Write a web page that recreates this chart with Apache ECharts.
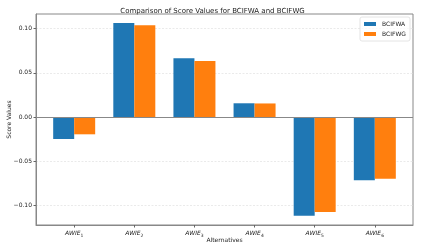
<!DOCTYPE html>
<html><head><meta charset="utf-8">
<script src="https://cdn.jsdelivr.net/npm/echarts@6/dist/echarts.min.js"></script>
<style>html,body{margin:0;padding:0;background:#fff}#c{width:425px;height:250px}</style>
</head><body><div id="c"></div>
<script>
const categories = ['1','2','3','4','5','6'];
const bcifwa = [-0.0249, 0.1063, 0.0664, 0.0155, -0.1116, -0.0716];
const bcifwg = [-0.0196, 0.1037, 0.0633, 0.0153, -0.1075, -0.0698];
const yTicks = [-0.10, -0.05, 0.00, 0.05, 0.10];
const xTicks = categories.map((c, i) => i);

const chart = echarts.init(document.getElementById('c'), null, {renderer: 'canvas'});
const font = 'DejaVu Sans';
chart.setOption({
  animation: false,
  title: {text: 'Comparison of Score Values for BCIFWA and BCIFWG', left: 'center', top: 3,
    textStyle: {fontFamily: font, fontSize: 7, fontWeight: 'normal', color: '#222'}},
  legend: {right: 15, top: 17, orient: 'vertical', itemWidth: 12, itemHeight: 4, itemGap: 4,
    padding: [4, 4, 4, 4], borderColor: '#ddd', borderWidth: 0.8, borderRadius: 2,
    backgroundColor: 'rgba(255,255,255,0.8)', icon: 'rect',
    textStyle: {fontFamily: font, fontSize: 6, color: '#222', padding: [0, 0, 0, 1]}},
  grid: {left: 36, right: 12, top: 14, bottom: 25, show: true, borderColor: '#888', borderWidth: 1,
    outerBoundsMode: 'none', containLabel: false},
  xAxis: {type: 'value', min: -0.635, max: 5.635,
    name: 'Alternatives', nameLocation: 'middle', nameGap: 12, nameMoveOverlap: false,
    nameTextStyle: {fontFamily: font, fontSize: 6, color: '#222'},
    axisLine: {show: true, onZero: false, lineStyle: {color: '#888'}},
    axisTick: {show: true, length: 2.5, customValues: xTicks, lineStyle: {color: '#666'}},
    splitLine: {show: false},
    axisLabel: {customValues: xTicks, margin: 4, fontFamily: font,
      formatter: v => '{i|AWIE}{s|' + categories[Math.round(v)] + '}',
      rich: {i: {fontFamily: font, fontStyle: 'italic', fontSize: 6, color: '#222'},
             s: {fontFamily: font, fontSize: 4.5, color: '#222', verticalAlign: 'bottom', padding: [4, 0, 0, 0]}}}},
  yAxis: {type: 'value', min: -0.1222, max: 0.1165,
    name: 'Score Values', nameLocation: 'middle', nameGap: 24, nameMoveOverlap: false,
    nameTextStyle: {fontFamily: font, fontSize: 6, color: '#222'},
    axisLine: {show: true, onZero: false, lineStyle: {color: '#888'}},
    axisTick: {show: true, length: 2.5, customValues: yTicks, lineStyle: {color: '#666'}},
    axisLabel: {customValues: yTicks, margin: 4, fontFamily: font, fontSize: 6, color: '#222',
      formatter: v => (v < 0 ? '\u2212' + Math.abs(v).toFixed(2) : v.toFixed(2))},
    splitLine: {show: true, lineStyle: {color: '#e4e4e4', type: [2, 1.5], width: 0.8}}},
  series: [
    {name: 'BCIFWA', type: 'bar', barWidth: 21, barGap: '0%',
      itemStyle: {color: '#1f77b4'},
      data: bcifwa.map((v, i) => [i, v]),
      markLine: {silent: true, symbol: 'none', label: {show: false},
        lineStyle: {color: '#888', type: 'solid', width: 1}, data: [{yAxis: 0}]}},
    {name: 'BCIFWG', type: 'bar', barWidth: 21, barGap: '0%',
      itemStyle: {color: '#ff7f0e'},
      data: bcifwg.map((v, i) => [i, v])}
  ]
});
</script></body></html>
